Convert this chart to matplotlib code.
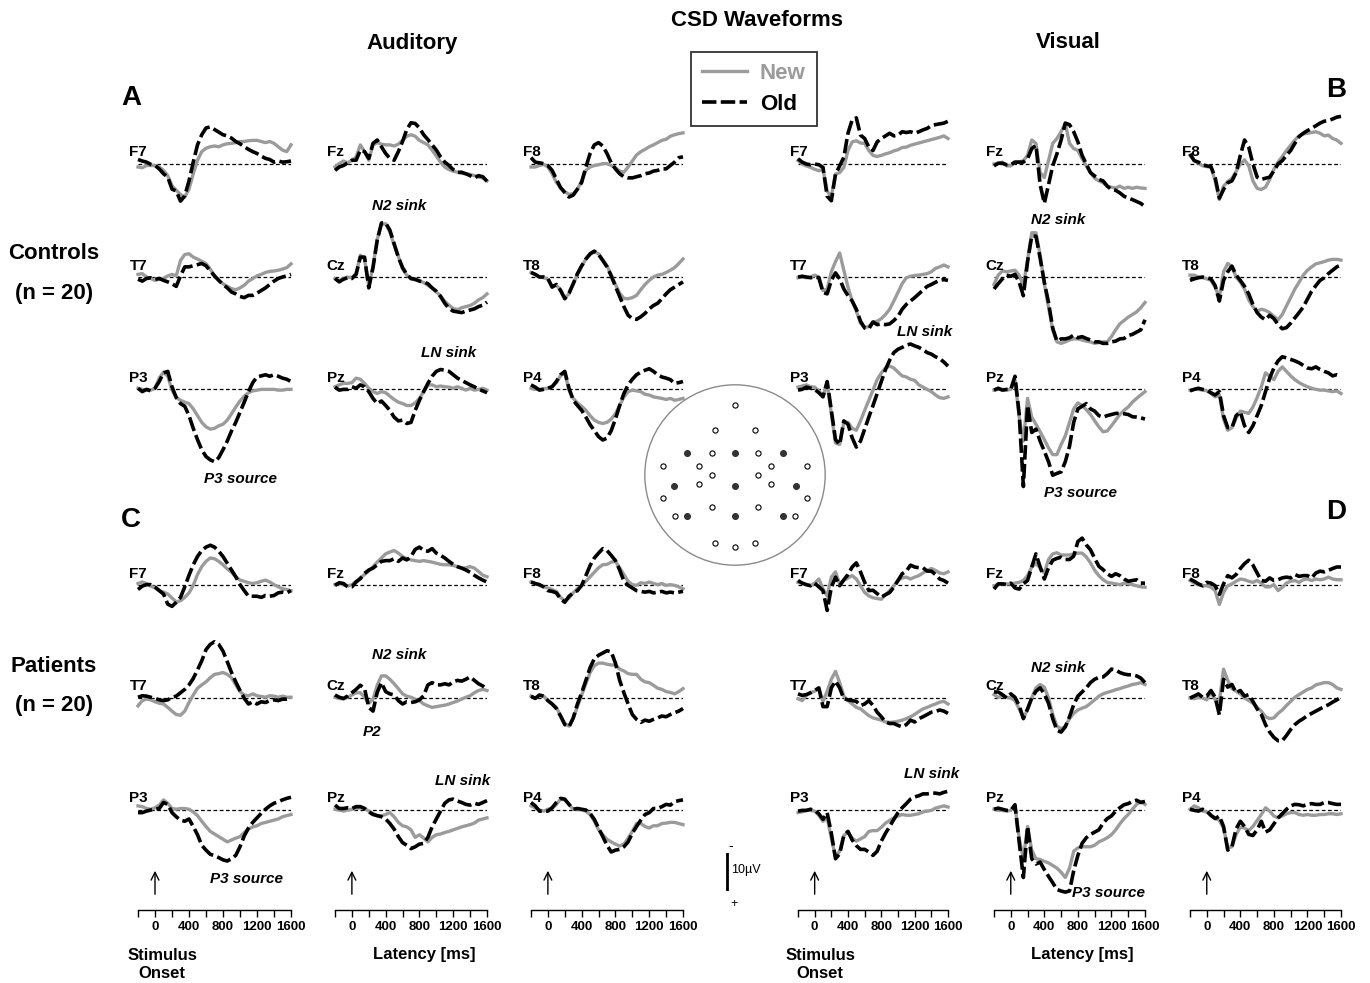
import matplotlib
matplotlib.use("Agg")
import matplotlib.pyplot as plt
from matplotlib.patches import Circle

plt.rcParams['font.family'] = ['Liberation Sans', 'DejaVu Sans']
plt.rcParams['font.weight'] = 'bold'

# latency grid (ms) shared by every waveform
latency_ms = [-200, -150, -100, -50, 0, 50, 100, 150, 200, 250, 300, 350, 400, 450, 500,
              550, 600, 650, 700, 750, 800, 850, 900, 950, 1000, 1050, 1100, 1150, 1200,
              1250, 1300, 1350, 1400, 1450, 1500, 1550, 1600]

# CSD amplitudes (uV, negative = sink = up).  ac = auditory controls, vc = visual controls,
# ap = auditory patients, vp = visual patients
ac_F7_old = [-1.2,-0.8,-0.5,0.1,0.4,1.3,2.6,3.5,6.7,7.2,9.9,8.5,4.5,-0.5,-5.1,-7.8,-9.6,-9.9,-9.2,-8.5,-7.8,-7.5,-6.9,-6.0,-5.4,-4.6,-3.9,-3.3,-2.8,-2.1,-1.5,-1.2,-0.5,-0.8,-0.5,-0.6,-0.8]
ac_F7_new = [0.8,1.0,0.4,0.4,0.4,0.8,1.7,3.1,5.8,7.0,8.1,8.8,6.7,2.6,-1.0,-3.3,-4.2,-4.6,-4.8,-4.6,-5.1,-5.4,-5.5,-5.7,-6.0,-6.0,-6.2,-6.3,-6.3,-6.0,-5.7,-6.0,-5.5,-4.6,-3.7,-3.3,-5.1]
ac_Fz_old = [1.7,0.8,0.4,-0.3,-1.0,-1.0,-3.7,-3.3,-1.5,-5.5,-6.4,-4.6,-2.8,-1.5,-1.0,-3.3,-6.0,-9.2,-11.0,-10.8,-9.6,-7.8,-6.5,-5.1,-3.7,-1.9,-0.5,0.4,1.5,2.2,2.2,2.6,3.1,3.7,3.1,3.4,4.6]
ac_Fz_new = [0.8,-0.1,-0.8,-0.3,-1.0,-1.9,-5.1,-3.3,-1.0,-5.1,-5.7,-5.3,-5.1,-5.1,-4.8,-5.3,-6.3,-7.4,-7.8,-7.4,-6.3,-5.7,-5.1,-3.7,-2.1,-0.5,0.8,1.5,1.9,2.2,2.5,2.6,2.8,3.1,3.5,3.7,4.5]
ac_F8_old = [-1.7,-0.5,-0.3,-0.1,0.4,1.7,4.0,6.3,7.6,8.8,8.3,6.7,4.9,0.8,-2.8,-5.1,-5.7,-4.8,-2.8,-0.3,1.3,2.6,3.4,3.7,3.7,3.4,3.1,2.6,2.4,1.9,1.7,1.3,1.3,0.4,-0.5,-1.7,-1.9]
ac_F8_new = [0.8,0.8,0.4,0.1,0.8,2.6,4.9,6.3,7.4,8.1,7.9,6.7,4.5,1.7,0.8,0.4,0.2,-0.1,-0.1,0.4,1.0,1.9,2.2,0.8,-0.8,-2.4,-3.3,-3.9,-4.6,-5.1,-5.7,-6.3,-6.6,-7.4,-7.8,-8.1,-8.3]
ac_T7_old = [0.6,1.1,0.4,0.2,0.6,0.4,0.9,1.3,1.8,2.5,-0.3,-2.7,-2.7,-3.0,-3.3,-3.6,-3.0,-1.6,-0.3,0.9,2.0,2.9,4.0,4.5,5.2,5.5,4.9,4.9,4.3,3.6,2.9,2.0,1.1,0.4,0.0,-0.3,-0.7]
ac_T7_new = [-0.7,-0.9,0.0,0.4,0.9,0.6,0.4,-0.3,-0.7,-0.3,-4.4,-6.0,-6.2,-5.3,-4.8,-4.2,-3.6,-2.1,-0.3,0.9,1.8,2.5,3.1,3.4,2.9,2.2,1.1,0.4,-0.3,-0.7,-1.2,-1.5,-1.6,-1.8,-2.1,-2.5,-3.5]
ac_Cz_old = [0.4,1.3,0.6,0.2,0.4,-0.7,-5.3,-5.3,2.9,-2.5,-9.8,-14.4,-14.4,-12.5,-8.9,-5.3,-2.5,-0.7,0.4,0.6,1.1,1.3,1.8,2.9,3.8,5.2,7.0,8.4,9.1,9.3,9.5,9.1,8.8,8.5,7.9,7.5,6.7]
ac_Cz_new = [0.4,1.0,0.4,0.0,0.2,-1.0,-5.8,-4.8,2.5,-2.8,-10.0,-14.0,-14.2,-12.0,-8.5,-5.5,-2.2,-0.5,0.5,0.8,1.0,1.5,2.2,3.0,4.0,5.0,6.5,7.5,8.4,8.7,8.2,7.9,7.6,7.0,6.1,5.5,4.5]
ac_T8_old = [-1.2,-0.7,0.0,0.0,0.4,2.7,2.0,3.6,5.8,4.3,1.8,-0.9,-3.0,-4.8,-6.2,-6.9,-6.0,-4.4,-2.7,-0.3,2.5,5.2,7.9,10.2,11.1,11.3,10.6,9.7,8.5,7.6,7.0,5.8,4.5,3.4,2.7,2.0,1.3]
ac_T8_new = [-1.2,-0.7,0.0,0.2,0.6,2.5,2.2,3.4,5.5,4.5,1.8,-0.7,-2.8,-4.8,-6.0,-6.7,-6.2,-4.6,-3.0,-0.5,2.0,4.3,5.7,5.8,5.5,4.9,3.4,2.0,0.9,0.0,-0.5,-0.7,-1.2,-1.8,-2.5,-3.6,-4.8]
ac_P3_old = [-0.2,0.7,0.1,0.5,-0.2,-2.0,-4.3,-4.7,-0.6,2.3,3.9,4.6,7.1,10.5,13.5,16.2,18.0,18.9,19.4,18.3,16.2,13.9,11.2,8.9,6.2,3.5,0.7,-1.7,-3.2,-3.5,-3.8,-3.4,-3.8,-3.4,-2.9,-2.6,-2.0]
ac_P3_new = [-0.2,0.1,0.3,0.3,-0.2,-2.9,-4.5,-3.4,0.3,2.3,3.0,3.5,3.9,5.3,7.1,8.9,10.1,10.7,10.5,9.8,9.4,8.3,6.6,4.8,3.2,1.9,1.0,0.5,0.3,0.1,0.1,0.1,0.1,0.3,0.3,0.1,0.1]
ac_Pz_old = [-0.5,0.3,0.1,0.1,-0.6,-0.2,-1.1,-0.6,0.7,2.5,3.9,3.2,4.4,5.7,7.5,8.5,8.3,9.2,8.9,5.7,3.0,0.7,-1.5,-3.4,-4.7,-5.2,-5.0,-4.7,-3.8,-2.9,-2.3,-1.7,-1.1,-0.6,0.1,0.5,1.0]
ac_Pz_new = [-0.6,-1.1,-1.5,-1.5,-1.7,-2.9,-2.6,-1.5,-0.2,0.7,1.2,0.7,1.0,1.9,2.8,3.5,3.9,4.4,4.4,3.7,2.5,0.7,-1.1,-1.1,-0.6,-0.8,-0.6,-0.5,-0.2,-0.6,-0.2,0.3,-0.2,0.3,0.1,-0.2,0.3]
ac_P4_old = [-1.1,-0.5,0.3,0.1,-0.2,-0.6,-2.0,-3.8,-4.7,-0.2,3.0,4.4,5.7,7.5,9.5,11.1,12.7,13.6,13.1,11.1,8.0,4.4,1.2,-1.1,-2.6,-3.8,-4.5,-5.0,-5.4,-4.7,-3.8,-3.2,-2.9,-2.5,-1.5,-1.7,-2.0]
ac_P4_new = [-0.2,0.1,0.1,-0.1,-0.2,-0.6,-1.7,-3.5,-4.3,0.3,2.5,3.7,4.6,5.7,7.1,8.3,8.9,9.2,8.9,8.0,6.6,4.4,2.1,0.7,0.3,0.5,0.7,1.4,1.6,2.1,2.3,2.5,2.8,2.5,3.0,2.8,2.5]

vc_F7_old = [-1.4,-0.5,0.0,0.2,0.0,0.2,0.9,8.6,9.8,2.7,0.5,-1.8,-8.2,-11.8,-12.3,-7.7,-6.8,-4.5,-3.6,-5.9,-6.8,-7.5,-8.2,-7.5,-7.7,-8.6,-8.4,-8.6,-8.2,-8.6,-9.1,-9.5,-10.2,-10.5,-10.7,-10.9,-11.4]
vc_F7_new = [-0.9,0.0,0.5,0.9,1.4,1.8,1.4,7.3,8.6,2.7,2.3,0.9,-3.6,-5.9,-6.2,-5.6,-5.5,-3.6,-2.3,-2.0,-2.3,-2.7,-3.0,-3.5,-3.8,-4.4,-4.5,-5.0,-5.3,-5.6,-5.9,-6.2,-6.5,-6.8,-7.1,-7.5,-6.8]
vc_Fz_old = [0.5,-0.2,-0.2,0.2,0.2,-0.5,-0.5,-0.5,-1.4,-4.1,-5.0,5.5,10.5,5.5,0.5,-2.7,-6.4,-10.9,-10.5,-8.6,-5.9,-2.3,0.0,2.3,3.2,4.1,4.5,5.9,6.8,7.0,7.7,8.6,9.1,9.5,10.0,10.5,11.4]
vc_Fz_new = [0.0,-0.2,-0.5,0.5,0.5,-0.5,-0.5,-0.9,-2.3,-6.4,-5.5,2.3,3.6,-0.9,-5.5,-6.8,-8.6,-10.9,-5.5,-4.1,-3.6,-1.4,0.5,2.3,3.8,4.5,5.0,5.9,6.2,6.4,5.9,6.5,6.2,6.5,6.2,6.4,6.5]
vc_F8_old = [-2.7,-0.9,-0.5,0.2,0.5,0.7,3.6,9.1,6.8,5.0,4.5,2.3,-2.3,-6.4,-4.5,0.0,3.5,4.1,3.8,3.5,1.8,0.0,-0.9,-2.3,-3.6,-5.5,-7.3,-8.2,-8.9,-9.5,-10.2,-10.9,-11.4,-11.6,-12.0,-12.5,-12.7]
vc_F8_new = [-2.3,-0.9,-0.2,0.5,0.7,0.9,4.5,9.5,5.9,4.7,3.8,2.0,0.0,-1.1,0.5,4.5,6.5,6.8,6.2,4.1,1.4,-0.5,-2.0,-3.6,-5.0,-6.4,-7.5,-8.0,-8.2,-8.4,-8.6,-8.2,-7.5,-7.7,-6.8,-6.4,-5.5]
vc_T7_old = [0.0,-0.2,0.0,0.2,0.0,0.2,4.1,4.5,0.9,-1.1,0.5,3.2,5.0,6.4,8.6,11.8,13.6,13.8,12.0,12.7,12.5,12.7,12.5,11.6,10.5,8.6,7.3,6.4,5.5,4.5,3.5,2.5,2.0,1.4,0.9,0.7,0.9]
vc_T7_new = [0.2,0.0,0.2,0.0,-0.5,0.0,3.6,3.2,-1.4,-4.1,-6.4,-1.8,2.7,6.4,9.1,12.3,13.5,13.2,12.0,11.8,11.1,10.0,8.6,6.4,4.1,1.8,0.2,-0.2,-0.4,-0.5,-0.7,-0.9,-1.4,-2.3,-2.7,-3.2,-2.7]
vc_Cz_old = [3.2,1.8,0.5,-0.5,-0.2,-0.7,1.4,5.0,-4.1,-10.9,-10.9,-5.0,1.4,6.8,13.6,17.1,16.5,16.5,16.2,15.5,16.2,15.9,16.4,16.8,17.3,17.3,17.7,17.7,17.3,17.1,16.5,16.4,15.6,15.3,14.7,14.1,11.4]
vc_Cz_new = [2.0,-0.5,-1.6,-1.4,-1.6,-1.8,-0.5,2.3,-4.5,-11.8,-11.8,-5.9,1.8,8.1,14.1,17.3,17.7,17.3,16.8,16.5,16.5,16.8,17.1,17.3,17.7,17.5,17.3,17.3,15.9,14.1,12.5,11.6,10.7,10.0,9.3,8.2,6.8]
vc_T8_old = [0.9,0.5,0.2,0.0,0.2,0.5,2.3,6.4,0.9,-1.4,-2.9,-0.5,0.9,2.5,4.5,7.3,9.5,10.7,11.4,10.2,11.1,12.7,13.8,13.5,12.3,10.9,9.5,8.0,5.9,3.8,2.3,0.9,0.2,-0.9,-1.8,-2.7,-3.2]
vc_T8_new = [-0.5,-0.5,0.0,0.2,0.5,0.9,2.7,5.5,-1.4,-3.6,-2.7,0.0,1.4,3.2,6.1,7.9,9.1,8.6,8.9,9.5,10.5,11.4,10.0,7.7,5.5,3.2,1.4,-0.5,-1.8,-2.7,-3.5,-3.8,-4.1,-4.5,-4.7,-4.7,-4.5]
vc_P3_old = [0.3,0.1,-0.5,-0.2,0.1,1.0,2.1,-2.0,5.7,13.5,14.8,8.5,9.4,13.0,15.5,13.9,10.7,7.5,4.4,1.2,-2.0,-5.2,-7.7,-9.7,-10.6,-11.1,-11.7,-12.0,-11.5,-11.1,-10.5,-9.7,-9.3,-8.6,-8.1,-7.2,-6.1]
vc_P3_new = [-0.5,-0.8,-1.1,-0.6,-0.5,0.5,1.9,-1.5,6.6,14.4,14.8,8.9,8.9,10.5,11.0,8.5,5.7,3.0,0.3,-2.5,-4.3,-5.6,-6.1,-5.6,-4.5,-3.5,-3.2,-2.6,-2.3,-1.1,-0.5,0.1,0.7,1.6,2.3,2.5,2.1]
vc_Pz_old = [0.3,-0.2,0.3,0.1,0.1,-3.4,6.6,26.0,4.4,11.6,10.7,13.9,16.6,19.4,23.0,22.5,22.1,19.4,15.3,8.9,5.3,4.6,3.9,5.3,5.9,7.1,7.5,7.1,6.8,6.5,6.5,6.6,6.8,7.4,7.5,7.7,8.0]
vc_Pz_new = [0.3,0.1,0.1,0.3,0.1,-2.5,7.5,13.9,2.5,7.5,9.4,11.4,13.5,15.7,17.5,17.5,14.8,12.5,8.9,5.3,3.7,4.4,5.5,6.8,8.5,10.1,11.4,11.2,9.8,8.3,6.8,5.7,4.8,3.5,2.5,1.6,0.7]
vc_P4_old = [0.5,0.1,-0.2,0.1,0.3,1.0,1.6,0.7,7.1,10.3,10.3,7.1,6.1,9.8,11.6,9.8,7.1,4.4,0.7,-2.9,-5.6,-7.5,-8.6,-8.3,-7.9,-7.5,-7.0,-6.3,-5.6,-5.4,-5.9,-5.2,-4.7,-4.3,-3.5,-3.8,-3.5]
vc_P4_new = [0.3,0.1,0.1,0.3,0.5,1.2,2.1,1.6,8.0,11.0,10.3,7.7,5.9,6.2,6.5,4.8,2.3,-0.6,-4.3,-3.4,-2.5,-4.7,-5.9,-4.7,-3.5,-2.5,-1.7,-1.1,-0.6,-0.2,0.1,0.3,0.3,0.5,0.7,0.5,1.2]

ap_F7_old = [1.2,0.3,-0.1,-0.1,0.5,1.5,2.4,5.1,5.7,4.6,3.3,0.5,-2.6,-5.4,-7.6,-9.2,-10.1,-10.6,-10.1,-9.0,-7.6,-5.8,-4.0,-2.2,-0.1,1.5,3.0,3.0,3.0,3.3,2.8,3.0,2.8,2.1,1.9,2.1,1.5]
ap_F7_new = [-0.4,-0.8,-0.4,0.3,0.8,1.5,1.9,2.4,3.5,4.5,4.2,3.3,2.1,0.1,-2.8,-4.9,-6.3,-7.2,-7.0,-6.3,-5.4,-4.3,-3.4,-2.2,-1.3,-1.0,-0.6,-0.4,-0.6,-1.0,-1.3,-0.8,-0.1,0.5,1.0,1.2,1.5]
ap_Fz_old = [0.1,-0.6,-0.4,0.5,0.5,-0.8,-1.7,-3.1,-4.0,-4.5,-5.4,-6.3,-6.5,-6.5,-7.0,-6.3,-7.2,-6.7,-7.6,-9.5,-10.1,-9.2,-9.0,-9.7,-8.5,-7.9,-7.2,-6.3,-5.5,-4.9,-4.5,-4.0,-3.4,-2.6,-1.9,-1.3,-0.8]
ap_Fz_new = [-0.1,-0.4,-0.1,0.3,-0.1,-1.0,-1.9,-2.8,-3.7,-4.9,-6.1,-7.2,-8.3,-8.8,-9.2,-8.5,-7.6,-7.0,-6.7,-6.5,-6.3,-6.5,-6.3,-6.1,-5.8,-5.5,-5.4,-5.4,-5.2,-4.9,-4.5,-4.6,-4.9,-4.5,-3.6,-2.6,-2.2]
ap_F8_old = [-0.8,-0.4,-0.1,0.5,1.5,1.7,2.1,3.7,4.6,3.0,2.1,1.5,0.1,-2.5,-5.2,-7.2,-8.5,-9.7,-9.2,-7.9,-6.5,-4.0,-1.0,0.1,0.8,1.5,1.7,1.9,1.7,2.1,1.9,1.7,2.1,1.9,2.1,1.9,1.7]
ap_F8_new = [-0.8,-0.4,0.1,0.5,0.8,1.2,1.7,3.3,4.2,3.5,2.1,1.0,0.1,-1.0,-2.2,-3.4,-4.6,-5.4,-5.5,-6.1,-6.3,-4.6,-2.8,-1.0,-0.1,0.1,-0.6,-0.4,-0.8,-0.4,-0.1,-0.4,0.1,-0.1,0.1,0.5,1.0]
ap_T7_old = [-0.2,-0.6,-0.5,-0.2,0.1,0.5,0.7,0.5,-0.2,-0.5,-1.4,-2.3,-3.5,-5.2,-7.5,-9.9,-12.9,-14.3,-15.0,-14.3,-12.5,-9.7,-6.8,-4.3,-2.0,0.1,1.6,1.0,1.6,1.0,1.2,0.7,0.5,0.7,0.3,0.3,0.1]
ap_T7_new = [2.1,0.7,0.3,0.5,1.0,1.4,1.6,2.5,3.5,4.4,4.6,3.5,1.2,-0.8,-2.6,-3.5,-4.3,-5.4,-6.3,-6.5,-6.8,-6.3,-5.4,-3.5,-1.7,-0.8,-0.6,-1.1,-0.6,-0.4,-0.2,-0.6,-0.5,-0.2,-0.5,-0.2,-0.2]
ap_Cz_old = [-0.8,-0.2,0.1,-0.5,-1.4,-2.3,-3.4,-2.5,2.5,3.5,-1.5,-4.1,-1.7,-1.1,-0.8,0.7,1.6,1.0,1.2,1.0,0.5,-0.6,-3.5,-4.1,-3.5,-3.5,-3.8,-3.5,-4.3,-4.7,-4.5,-5.0,-5.6,-4.7,-3.8,-3.2,-2.3]
ap_Cz_new = [-0.2,0.1,0.3,-0.2,-0.8,-1.4,-1.4,-0.2,1.4,0.3,-3.4,-5.9,-5.9,-5.0,-3.8,-2.5,-1.1,-0.5,-0.2,0.3,0.7,1.6,2.1,2.5,2.3,2.1,1.9,1.6,1.2,0.8,0.3,-0.2,-0.6,-1.4,-2.0,-2.3,-2.0]
ap_T8_old = [-0.5,0.1,-0.8,-0.5,0.7,1.6,2.8,4.8,7.1,7.7,5.3,1.6,-1.4,-4.7,-8.1,-10.5,-11.4,-12.0,-12.6,-12.3,-9.3,-4.7,-1.4,1.6,4.4,5.7,6.5,5.9,6.2,5.7,5.3,4.8,5.0,4.4,3.9,3.5,2.8]
ap_T8_new = [-0.5,0.1,-0.6,-0.5,0.7,1.6,2.5,4.7,6.8,7.5,5.5,2.3,-0.8,-3.8,-6.8,-8.6,-9.3,-9.3,-9.0,-8.8,-8.8,-7.7,-7.2,-6.5,-6.3,-6.3,-5.0,-4.3,-4.1,-3.4,-2.6,-2.3,-1.7,-1.5,-1.1,-1.7,-2.5]
ap_P3_old = [0.7,0.7,0.3,0.0,-0.2,-0.4,-2.0,-1.5,0.7,1.8,2.7,3.0,2.4,4.4,6.6,9.4,10.7,11.8,12.2,12.7,13.3,13.6,13.0,12.1,9.8,6.9,4.8,3.3,2.1,0.9,-0.2,-1.1,-1.8,-2.2,-2.7,-3.1,-3.4]
ap_P3_new = [-1.1,-0.9,-0.4,-0.2,-0.6,-1.3,-2.7,-1.8,-0.4,-0.2,-0.4,-0.4,-0.2,0.5,1.5,3.0,4.4,5.7,6.4,7.1,7.8,8.5,8.0,7.5,7.1,6.0,5.1,4.5,4.2,3.6,3.3,3.0,2.7,2.4,1.8,1.5,1.2]
ap_Pz_old = [-1.3,-0.4,-0.4,-0.6,-0.4,-0.9,-0.9,-0.4,0.5,1.2,1.5,1.8,2.4,3.6,5.1,7.1,8.7,9.4,10.3,9.8,9.1,8.9,7.3,4.5,2.4,0.3,-1.8,-2.7,-2.9,-2.4,-2.0,-1.5,-1.3,-1.8,-1.5,-2.0,-2.5]
ap_Pz_new = [-0.2,0.0,0.3,0.0,-0.2,-0.4,-0.6,-0.4,0.3,0.9,1.6,1.5,1.2,0.7,1.8,3.3,4.2,4.5,5.3,7.3,6.6,7.5,8.5,7.3,6.6,6.4,6.0,5.7,5.3,4.9,4.5,4.2,3.9,3.5,2.7,2.4,2.1]
ap_P4_old = [-2.0,-1.1,0.3,0.3,0.3,-0.6,-2.0,-3.1,-2.9,-1.5,-0.2,-0.4,-0.2,0.0,0.9,2.5,4.8,7.1,9.4,11.2,10.7,10.5,9.8,8.5,6.2,4.4,2.7,1.2,0.7,-0.4,-0.4,-0.9,-1.5,-1.3,-2.2,-2.5,-2.7]
ap_P4_new = [-1.1,-0.6,0.0,0.3,-0.2,-0.4,-1.5,-2.9,-2.7,-1.5,-0.2,-0.2,0.0,0.3,1.2,3.0,5.3,6.6,7.8,8.5,9.1,9.6,9.1,7.5,5.7,3.6,3.6,4.4,4.8,4.2,4.2,3.6,3.5,3.3,3.3,3.6,3.9]

vp_F7_old = [-1.2,-0.5,-0.1,0.2,-0.5,0.5,1.5,6.8,0.6,-2.1,0.2,-1.4,-2.8,-4.8,-5.9,-3.5,-0.7,1.5,1.4,2.3,3.2,2.6,2.0,0.6,-1.2,-3.0,-3.7,-5.3,-4.8,-4.6,-4.6,-3.7,-3.7,-2.8,-1.6,-1.2,-0.5]
vp_F7_new = [-0.7,-0.5,-0.1,0.2,-0.5,-1.6,1.1,2.9,-2.1,-3.5,-0.3,-1.2,-1.9,-2.5,-1.6,0.2,2.0,2.9,3.4,3.6,3.8,2.6,1.5,0.2,-1.2,-1.9,-2.1,-1.6,-2.1,-2.5,-3.2,-3.9,-4.4,-3.9,-3.2,-3.0,-3.5]
vp_Fz_old = [1.1,-0.3,-0.3,-0.1,-0.5,0.8,1.1,-0.3,-1.2,-4.8,-8.3,-4.8,-1.6,-4.6,-6.6,-7.1,-7.4,-6.8,-6.8,-7.7,-11.6,-12.5,-10.7,-9.4,-7.1,-5.0,-4.1,-3.0,-2.3,-3.0,-2.5,-1.6,-1.0,-1.2,-1.4,-0.5,-0.5]
vp_Fz_new = [0.2,-0.1,-0.3,-0.3,-0.3,-0.5,-0.7,-1.2,-2.5,-4.8,-5.7,-4.6,-3.2,-6.8,-8.3,-8.6,-8.0,-8.0,-8.0,-8.3,-8.5,-8.5,-7.5,-5.9,-3.9,-2.5,-1.4,-0.7,-0.5,-0.3,-0.1,-0.5,-0.3,-0.1,0.2,0.5,0.6]
vp_F8_old = [-1.6,-1.0,-0.3,0.2,-0.7,-0.5,0.2,2.5,-0.3,-2.5,-1.9,-2.8,-4.4,-5.7,-6.6,-5.3,-3.2,-1.2,-1.0,-1.9,-1.2,-1.4,-1.9,-2.1,-1.9,-2.8,-2.3,-2.5,-2.5,-1.9,-3.2,-3.7,-3.5,-3.9,-4.4,-4.8,-4.8]
vp_F8_new = [-1.2,-0.5,-0.1,0.2,0.2,0.6,1.5,5.2,2.0,0.2,-0.3,-1.0,-1.6,-1.4,-1.0,-0.7,-1.2,-0.5,0.5,0.5,-0.1,1.5,0.6,-0.5,-1.0,-1.2,-0.7,-1.4,-1.6,-1.2,-1.6,-1.4,-1.6,-2.1,-1.6,-1.4,-1.4]
vp_T7_old = [-1.1,-0.7,-0.9,-1.4,-2.0,-2.7,2.3,2.3,-2.7,-4.5,-2.7,0.2,0.5,0.7,0.9,2.0,1.6,0.7,2.0,3.8,5.0,6.4,6.8,6.8,7.3,7.7,7.1,5.9,6.4,5.5,5.0,4.4,3.8,3.6,3.2,3.5,4.1]
vp_T7_new = [0.2,0.7,-0.7,-1.4,-1.8,-2.5,0.9,-1.8,-5.0,-7.1,-4.1,-0.5,0.7,1.6,2.5,2.9,3.8,4.7,5.3,5.6,5.9,6.4,6.5,6.4,6.2,5.9,5.5,5.0,4.4,3.6,2.9,2.5,2.0,1.6,1.1,0.9,1.6]
vp_Cz_old = [-1.6,-1.6,-0.9,0.0,-1.1,-0.2,2.0,5.5,2.9,0.0,-1.8,-2.7,-1.1,1.4,5.5,8.6,9.1,7.7,5.0,1.8,-0.5,-1.6,-2.7,-4.1,-5.0,-5.5,-5.6,-6.5,-7.7,-7.5,-6.8,-6.4,-6.2,-6.2,-5.9,-5.3,-4.1]
vp_Cz_new = [-0.9,-0.2,-0.5,-0.2,0.0,0.7,2.9,5.3,3.2,0.0,-2.7,-3.6,-2.9,0.0,4.4,7.5,8.2,7.5,5.5,4.1,3.2,2.7,2.3,1.4,0.5,-0.5,-1.1,-1.5,-1.8,-2.2,-2.5,-2.9,-3.2,-3.6,-3.8,-4.1,-3.6]
vp_T8_old = [0.0,-0.5,-1.1,-0.2,-0.5,-2.0,-0.2,4.5,-5.0,-2.9,-3.6,-1.4,-2.0,-0.5,-0.9,0.9,2.9,4.4,7.1,9.1,10.5,11.4,11.4,10.0,8.4,7.1,6.2,5.5,4.7,4.1,3.5,2.9,2.3,1.8,1.1,0.5,-0.2]
vp_T8_new = [0.0,0.2,-0.2,0.0,0.5,-1.6,0.5,0.9,-7.7,-4.7,-2.5,-1.8,-1.1,0.0,0.7,1.4,2.5,3.5,5.0,5.5,5.3,4.1,3.2,2.0,0.9,-0.2,-0.9,-1.6,-2.3,-2.7,-3.5,-3.8,-4.1,-4.1,-3.6,-2.7,-2.3]
vp_P3_old = [0.3,0.1,0.1,-0.2,0.1,1.0,2.5,0.7,6.2,13.0,11.7,6.8,5.7,8.0,9.5,10.5,10.5,11.2,12.1,11.0,8.3,6.2,4.4,2.5,0.7,-0.6,-1.7,-2.9,-3.5,-3.8,-4.3,-4.3,-4.5,-4.5,-4.3,-4.7,-5.0]
vp_P3_new = [0.7,0.5,0.1,0.1,0.3,1.4,3.0,2.1,7.5,12.5,11.0,6.8,5.9,7.5,8.3,7.7,7.1,5.7,5.5,5.5,4.6,3.5,2.8,2.1,1.6,1.2,1.4,1.4,1.2,1.0,0.5,0.3,0.1,-0.5,-0.8,-1.1,-0.8]
vp_Pz_old = [-0.2,-0.5,-0.2,0.1,0.1,-1.4,8.5,18.0,4.4,13.0,14.4,13.9,15.9,17.7,19.4,21.2,21.6,21.9,21.6,16.2,12.1,8.9,7.4,6.5,5.9,5.3,3.5,2.3,1.6,0.3,-0.6,-1.4,-1.7,-2.3,-2.6,-2.0,-2.3]
vp_Pz_new = [-0.2,0.1,0.1,0.3,0.1,-1.1,7.5,13.0,4.4,10.7,13.0,13.2,13.7,14.1,14.8,15.5,16.6,18.0,15.5,11.0,10.1,9.8,9.8,9.8,9.4,8.5,8.0,7.4,6.6,5.3,3.7,2.3,1.2,-0.2,-1.5,-2.3,-1.5]
vp_P4_old = [-0.2,0.1,0.3,-0.2,0.3,1.4,2.3,1.6,4.4,10.7,9.8,5.0,3.0,4.4,6.5,6.8,5.3,3.0,5.9,5.3,3.7,2.1,1.0,-0.2,-1.1,-1.5,-1.4,-1.1,-1.5,-1.7,-1.5,-1.5,-2.0,-2.0,-1.7,-1.5,-1.5]
vp_P4_new = [-0.2,-1.1,-0.6,0.3,0.5,1.6,2.1,2.8,4.8,10.1,9.8,6.5,4.6,4.8,5.5,4.4,2.8,1.2,-0.6,0.3,1.6,2.1,1.6,1.0,0.7,0.7,1.2,1.4,1.2,1.4,1.4,1.2,1.2,1.0,1.0,1.2,1.0]

electrodes = [['F7', 'Fz', 'F8'], ['T7', 'Cz', 'T8'], ['P3', 'Pz', 'P4']]
groups = ['ac', 'vc', 'ap', 'vp']
xticks = [0, 400, 800, 1200, 1600]

# head map (unit circle), filled = electrodes shown above
head_open = [(0, 0.78), (-0.22, 0.5), (0.22, 0.5), (-0.26, 0.24), (0.26, 0.24), (-0.8, 0.1), (0.8, 0.1),
             (-0.4, 0.1), (0.4, 0.1), (-0.26, 0.0), (0.26, 0.0), (-0.4, -0.1), (0.4, -0.1),
             (-0.8, -0.25), (0.8, -0.25), (-0.26, -0.36), (0.26, -0.36), (-0.66, -0.45), (0.66, -0.45),
             (-0.22, -0.75), (0.0, -0.8), (0.22, -0.75)]
head_filled = [(-0.53, 0.24), (0.0, 0.24), (0.53, 0.24), (-0.68, -0.12), (0.0, -0.12), (0.68, -0.12),
               (-0.53, -0.46), (0.0, -0.46), (0.53, -0.46)]

# ---------------------------------------------------------------- layout
W, H = 1370, 983
fig = plt.figure(figsize=(W / 100, H / 100), dpi=100)
PXU = 3.75          # pixels per uV
HALF = 60           # half panel height (px)
col_left = [138, 335, 531, 798, 994, 1190]
col_width = [153, 152, 152, 150, 151, 151]
row_base = [164, 277, 389, 585, 698, 810]
GRAY = '#9b9b9b'


def px_axes(x, y, w, h):
    return fig.add_axes([x / W, 1 - (y + h) / H, w / W, h / H])


def ftext(x, y, s, **kw):
    fig.text(x / W, 1 - y / H, s, **kw)


lines_for_legend = None
for g_i, grp in enumerate(groups):
    r0 = 0 if g_i in (0, 1) else 3
    c0 = 0 if g_i in (0, 2) else 3
    for r in range(3):
        for c in range(3):
            el = electrodes[r][c]
            new = globals()[f'{grp}_{el}_new']
            old = globals()[f'{grp}_{el}_old']
            base = row_base[r0 + r]
            ax = px_axes(col_left[c0 + c], base - HALF, col_width[c0 + c], 2 * HALF)
            ax.set_xlim(-200, 1600)
            ax.set_ylim(HALF / PXU, -HALF / PXU)
            ax.axis('off')
            ax.plot([-200, 1600], [0, 0], color='black', lw=0.9, ls=(0, (3, 2)))
            ln_new, = ax.plot(latency_ms, new, color=GRAY, lw=2.4, clip_on=False,
                              solid_joinstyle='round')
            ln_old, = ax.plot(latency_ms, old, color='black', lw=2.6, ls=(0, (4, 1.2)),
                              clip_on=False)
            lines_for_legend = (ln_new, ln_old)
            ax.text(-300, -1.2, el, fontsize=11, fontweight='bold', va='bottom', ha='left')

# bottom latency axes with stimulus arrows
for c in range(6):
    ax = px_axes(col_left[c], 860, col_width[c], 50)
    ax.set_xlim(-200, 1600)
    ax.set_ylim(0, 1)
    for s in ['top', 'right', 'left']:
        ax.spines[s].set_visible(False)
    ax.spines['bottom'].set_linewidth(1.0)
    ax.set_yticks([])
    ax.set_xticks(xticks)
    ax.set_xticks([-200, 200, 600, 1000, 1400], minor=True)
    ax.tick_params(axis='x', which='both', direction='out', length=5, width=1.0,
                   labelsize=9.5, pad=3)
    for lb in ax.get_xticklabels():
        lb.set_fontweight('bold')
    ax.patch.set_visible(False)
    ax.annotate('', xy=(0, 0.84), xytext=(0, 0.26), xycoords=ax.get_xaxis_transform(),
                arrowprops=dict(arrowstyle='->', lw=1.0, color='black', mutation_scale=14))

# scale bar
sb = px_axes(720, 872 - 5 * PXU, 14, 10 * PXU)
sb.set_xlim(0, 1)
sb.set_ylim(10, 0)
sb.axis('off')
sb.plot([0.5, 0.5], [0, 10], color='black', lw=2.0)
ftext(731, 846, '-', fontsize=10, ha='center', va='center', fontweight='normal')
ftext(734, 904, '+', fontsize=9, ha='center', va='center', fontweight='normal')
ftext(731, 870, '10\u00b5V', fontsize=9, ha='left', va='center', fontweight='normal')

# head diagram
hd = px_axes(735 - 92, 475 - 92, 184, 184)
hd.set_xlim(-1.02, 1.02)
hd.set_ylim(-1.02, 1.02)
hd.set_aspect('equal')
hd.axis('off')
hd.add_patch(Circle((0, 0), 1.0, fill=False, ec='#8a8a8a', lw=1.0))
hd.scatter([p[0] for p in head_open], [p[1] for p in head_open], s=14, facecolors='white',
           edgecolors='black', linewidths=0.8, zorder=3)
hd.scatter([p[0] for p in head_filled], [p[1] for p in head_filled], s=18, facecolors='#333333',
           edgecolors='#333333', linewidths=0.8, zorder=3)

# legend
leg = fig.legend(lines_for_legend, ['New', 'Old'], loc='upper left',
                 bbox_to_anchor=(691 / W, 1 - 52 / H), borderaxespad=0.0, frameon=True,
                 fancybox=False, edgecolor='black', prop=dict(size=16, weight='bold'),
                 handlelength=2.0, handletextpad=0.6, borderpad=0.5, labelspacing=0.45)
leg.get_frame().set_linewidth(1.3)
leg.get_texts()[0].set_color(GRAY)

# titles and labels
ftext(757, 21, 'CSD Waveforms', fontsize=16, ha='center', va='center')
ftext(412, 43, 'Auditory', fontsize=16, ha='center', va='center')
ftext(1068, 43, 'Visual', fontsize=16, ha='center', va='center')
for x, y, s in [(131, 98, 'A'), (1336, 90, 'B'), (131, 520, 'C'), (1336, 512, 'D')]:
    ftext(x, y, s, fontsize=20, ha='center', va='center')
ftext(54, 253, 'Controls', fontsize=16, ha='center', va='center')
ftext(54, 293, '(n = 20)', fontsize=16, ha='center', va='center')
ftext(54, 666, 'Patients', fontsize=16, ha='center', va='center')
ftext(54, 706, '(n = 20)', fontsize=16, ha='center', va='center')

notes = [(399, 206, 'N2 sink'), (449, 353, 'LN sink'), (241, 479, 'P3 source'),
         (1058, 220, 'N2 sink'), (925, 332, 'LN sink'), (1081, 493, 'P3 source'),
         (399, 655, 'N2 sink'), (372, 732, 'P2'), (247, 879, 'P3 source'), (463, 781, 'LN sink'),
         (932, 774, 'LN sink'), (1058, 668, 'N2 sink'), (1108, 893, 'P3 source')]
for x, y, s in notes:
    ftext(x, y, s, fontsize=11, ha='center', va='center', style='italic')

for x in (162, 820):
    ftext(x, 955, 'Stimulus', fontsize=12, ha='center', va='center')
    ftext(x, 974, 'Onset', fontsize=12, ha='center', va='center')
for x in (424, 1082):
    ftext(x, 955, 'Latency [ms]', fontsize=12, ha='center', va='center')

fig.savefig('out.png', dpi=100)
